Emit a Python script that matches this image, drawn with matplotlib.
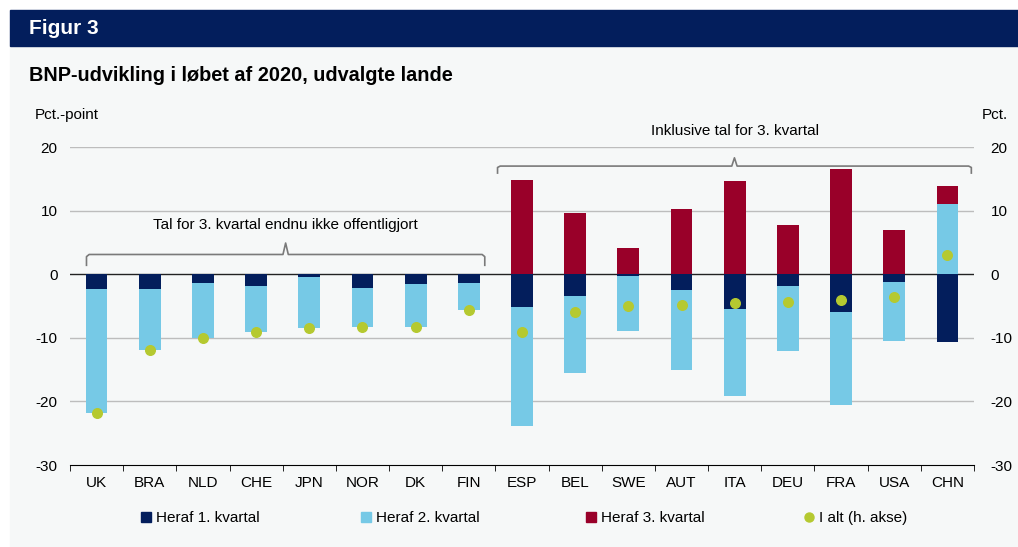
import matplotlib.pyplot as plt
import numpy as np
from matplotlib.lines import Line2D
from matplotlib.patches import Patch, Rectangle
from matplotlib.ticker import FuncFormatter

plt.rcParams["font.family"] = ["Liberation Sans", "DejaVu Sans"]

countries = ["UK", "BRA", "NLD", "CHE", "JPN", "NOR", "DK", "FIN",
             "ESP", "BEL", "SWE", "AUT", "ITA", "DEU", "FRA", "USA", "CHN"]
q1 = [-2.3, -2.4, -1.4, -1.8, -0.5, -2.1, -1.5, -1.35,
      -5.2, -3.4, -0.3, -2.5, -5.5, -1.9, -6.0, -1.3, -10.7]
q2 = [-19.6, -9.5, -8.6, -7.3, -7.9, -6.2, -6.8, -4.35,
      -18.7, -12.1, -8.7, -12.5, -13.7, -10.1, -14.5, -9.2, 11.1]
q3 = [0, 0, 0, 0, 0, 0, 0, 0,
      14.8, 9.6, 4.1, 10.2, 14.6, 7.7, 16.5, 7.0, 2.7]
total = [-21.8, -11.9, -10.0, -9.1, -8.5, -8.3, -8.3, -5.7,
         -9.1, -6.0, -5.0, -4.8, -4.6, -4.3, -4.1, -3.6, 3.0]

series_labels = ["Heraf 1. kvartal", "Heraf 2. kvartal", "Heraf 3. kvartal"]
total_label = "I alt (h. akse)"
note_left = "Tal for 3. kvartal endnu ikke offentligjort"
note_right = "Inklusive tal for 3. kvartal"

NAVY = "#031e5c"
LIGHT = "#76c9e6"
RED = "#990029"
DOT = "#b5c930"
BG = "#f6f8f8"
BRACE = "#7a7a7a"
FS = 11


def hyphen_fmt(v, pos):
    return f"{v:.0f}".replace("\u2212", "-")


def draw_brace(ax, x0, x1, y, h, tip):
    xm = (x0 + x1) / 2
    dx = 0.05
    xs = [x0, x0, x0 + dx, xm - dx, xm, xm + dx, x1 - dx, x1, x1]
    ys = [y - h, y - 0.2 * h, y, y, y + tip, y, y, y - 0.2 * h, y - h]
    ax.plot(xs, ys, color=BRACE, lw=1.2, clip_on=False, zorder=4,
            solid_joinstyle="round")


fig = plt.figure(figsize=(10.18, 5.47), dpi=100)
fig.patch.set_facecolor("white")

# background panel and header bar
fig.add_artist(Rectangle((10 / 1018, 0), 1 - 10 / 1018, 1 - 46 / 547,
                         transform=fig.transFigure, color=BG, zorder=0))
fig.add_artist(Rectangle((10 / 1018, 1 - 46 / 547), 1 - 10 / 1018, 36 / 547,
                         transform=fig.transFigure, color=NAVY, zorder=0))
fig.text(29 / 1018, 1 - 28 / 547, "Figur 3", color="white", fontsize=15,
         fontweight="bold", va="center", ha="left")
fig.text(29 / 1018, 1 - 76 / 547,
         "BNP-udvikling i løbet af 2020, udvalgte lande",
         fontsize=14.3, fontweight="bold", va="center", ha="left")
fig.text(35 / 1018, 1 - 115 / 547, "Pct.-point", fontsize=FS,
         va="center", ha="left")
fig.text(1008 / 1018, 1 - 115 / 547, "Pct.", fontsize=FS,
         va="center", ha="right")

ax = fig.add_axes([70 / 1018, 1 - 465 / 547, 904 / 1018, 318 / 547])
ax.set_facecolor("none")
x = np.arange(len(countries))
width = 0.41

pos_bottom = np.zeros(len(countries))
neg_bottom = np.zeros(len(countries))
for vals, color in zip([q1, q2, q3], [NAVY, LIGHT, RED]):
    vals = np.asarray(vals, dtype=float)
    bottom = np.where(vals >= 0, pos_bottom, neg_bottom)
    ax.bar(x, vals, width, bottom=bottom, color=color, zorder=3)
    pos_bottom += np.clip(vals, 0, None)
    neg_bottom += np.clip(vals, None, 0)

ax.set_xlim(-0.5, len(countries) - 0.5)
ax.set_ylim(-30, 20)
ax.set_yticks([-30, -20, -10, 0, 10, 20])
ax.yaxis.set_major_formatter(FuncFormatter(hyphen_fmt))
ax.set_xticks(x)
ax.set_xticklabels(countries)
ax.set_xticks(np.arange(-0.5, len(countries)), minor=True)
ax.tick_params(axis="x", which="major", length=0, pad=8, labelsize=FS)
ax.tick_params(axis="x", which="minor", length=4, color="black")
ax.tick_params(axis="y", length=0, pad=9, labelsize=FS)
for y in [-20, -10, 10, 20]:
    ax.axhline(y, color="#bdbdbd", lw=1, zorder=1)
ax.axhline(0, color="#222222", lw=1, zorder=2)
for side in ["left", "right", "top"]:
    ax.spines[side].set_visible(False)
ax.spines["bottom"].set_color("black")

ax2 = ax.twinx()
ax2.set_ylim(-30, 20)
ax2.set_yticks([-30, -20, -10, 0, 10, 20])
ax2.yaxis.set_major_formatter(FuncFormatter(hyphen_fmt))
ax2.tick_params(axis="y", length=0, pad=12, labelsize=FS)
for side in ["left", "right", "top", "bottom"]:
    ax2.spines[side].set_visible(False)
ax2.scatter(x, total, s=48, color=DOT, zorder=5)

draw_brace(ax2, -0.19, 7.3, 3.1, 1.7, 1.8)
ax2.text(3.55, 7.7, note_left, ha="center", va="center", fontsize=FS)
draw_brace(ax2, 7.54, 16.45, 17.0, 1.1, 1.3)
ax2.text(12.0, 22.5, note_right, ha="center", va="center", fontsize=FS,
         clip_on=False)

handles = [Patch(color=NAVY), Patch(color=LIGHT), Patch(color=RED),
           Line2D([], [], marker="o", ls="", color=DOT, markersize=6.5)]
labels = series_labels + [total_label]
legend_x = [141, 361, 586, 804]
for handle, label, lx in zip(handles, labels, legend_x):
    fig.legend([handle], [label], loc="center left",
               bbox_to_anchor=(lx / 1018, 1 - 518 / 547), frameon=False,
               fontsize=FS, handlelength=0.65, handleheight=0.65,
               handletextpad=0.3, borderpad=0, borderaxespad=0)

fig.savefig("out.png", dpi=100, facecolor=fig.get_facecolor())
